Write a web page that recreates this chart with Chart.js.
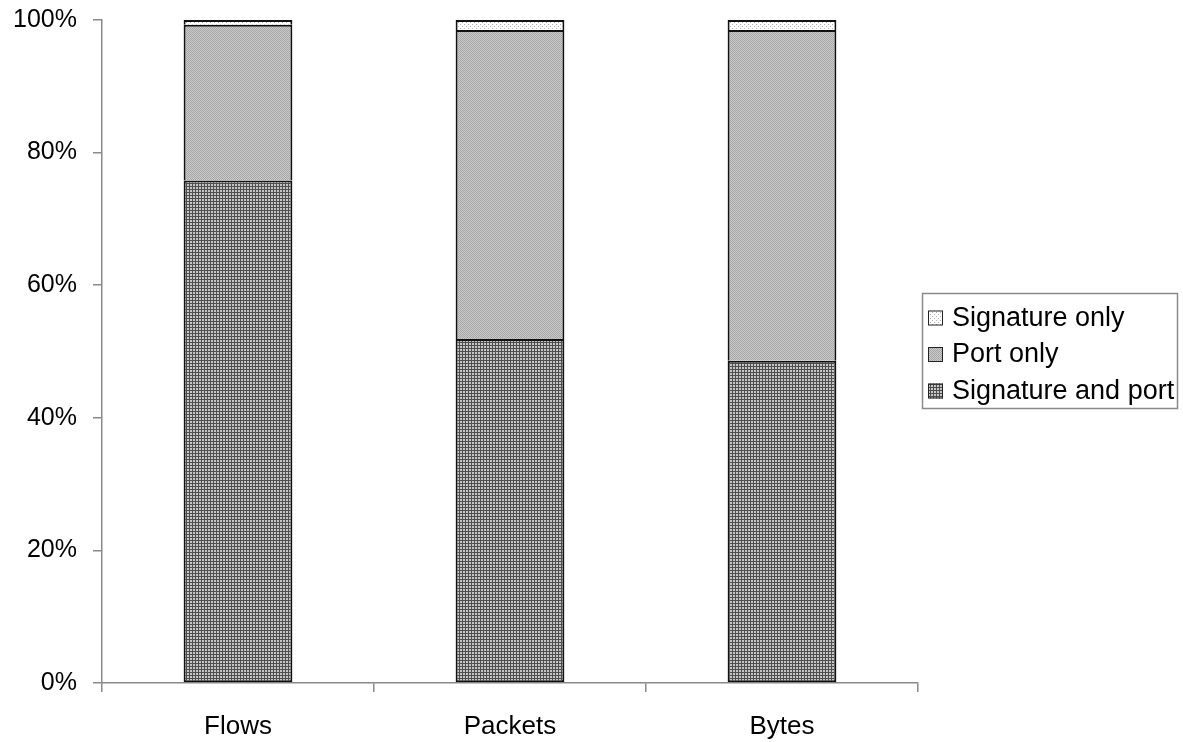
<!DOCTYPE html>
<html>
<head>
<meta charset="utf-8">
<title>Traffic classification breakdown</title>
<script src="https://cdn.jsdelivr.net/npm/chart.js@4/dist/chart.umd.min.js"></script>
<style>
  html, body { margin: 0; padding: 0; background: #ffffff; }
  #wrap { position: relative; width: 1183px; height: 742px; }
</style>
</head>
<body>
<div id="wrap"><canvas id="chart" width="1183" height="742"></canvas></div>
<script>
// Categories and the share (%) of each in every group
const categories = ['Flows', 'Packets', 'Bytes'];
const signatureAndPort = [75.8, 51.9, 48.6];
const portOnly = [23.5, 46.6, 49.9];
const signatureOnly = [0.7, 1.5, 1.5];
const seriesNames = ['Signature and port', 'Port only', 'Signature only'];
const yTickLabels = ['0%', '20%', '40%', '60%', '80%', '100%'];

// Small tiled fills that give each series its textured look
function makeTile(size, paint) {
  const c = document.createElement('canvas');
  c.width = size; c.height = size;
  const g = c.getContext('2d');
  paint(g);
  return c;
}
const ctx = document.getElementById('chart').getContext('2d');

const gridTile = makeTile(3, g => {
  g.fillStyle = '#c6c6c6'; g.fillRect(0, 0, 3, 3);
  g.fillStyle = '#4e4e4e'; g.fillRect(0, 0, 3, 1); g.fillRect(0, 0, 1, 3);
});
const greyTile = makeTile(2, g => {
  g.fillStyle = '#cbcbcb'; g.fillRect(0, 0, 2, 2);
  g.fillStyle = '#a6a6a6'; g.fillRect(0, 0, 1, 1); g.fillRect(1, 1, 1, 1);
});
const dotTile = makeTile(4, g => {
  g.fillStyle = '#ffffff'; g.fillRect(0, 0, 4, 4);
  g.fillStyle = '#b0b0b0'; g.fillRect(0, 0, 1, 1); g.fillRect(2, 2, 1, 1);
});
const fills = [
  ctx.createPattern(gridTile, 'repeat'),
  ctx.createPattern(greyTile, 'repeat'),
  ctx.createPattern(dotTile, 'repeat')
];

const fontFamily = '"Liberation Sans", Arial, sans-serif';

// Boxed legend at the right, top entry first
const boxedLegend = {
  id: 'boxedLegend',
  afterDraw(chart) {
    const c = chart.ctx;
    c.save();
    c.strokeStyle = '#8a8a8a';
    c.lineWidth = 1.5;
    c.strokeRect(922.5, 293.5, 255, 115);
    const rows = [2, 1, 0];
    rows.forEach((ds, i) => {
      const cy = 317.5 + i * 36.5;
      c.fillStyle = fills[ds];
      c.fillRect(928, cy - 7, 15, 15);
      c.strokeStyle = '#222';
      c.lineWidth = 1;
      c.strokeRect(928.5, cy - 6.5, 14, 14);
      c.fillStyle = '#000';
      c.font = '27px ' + fontFamily;
      c.textBaseline = 'middle';
      c.textAlign = 'left';
      c.fillText(seriesNames[ds], 952, cy + 1);
    });
    c.restore();
  }
};

const seriesValues = [signatureAndPort, portOnly, signatureOnly];

new Chart(ctx, {
  type: 'bar',
  data: {
    labels: categories,
    datasets: seriesValues.map((vals, i) => ({
      label: seriesNames[i],
      data: vals,
      backgroundColor: fills[i],
      borderColor: '#111',
      // one shared outline between stacked segments
      borderWidth: { top: 2, left: 2, right: 2, bottom: i === 0 ? 2 : 0 },
      borderSkipped: false,
      categoryPercentage: 1.0,
      barPercentage: 0.4
    }))
  },
  options: {
    responsive: false,
    animation: false,
    layout: { padding: { left: 0, right: 265, top: 20, bottom: 0 } },
    plugins: {
      legend: { display: false },
      tooltip: { enabled: false }
    },
    scales: {
      x: {
        stacked: true,
        offset: true,
        afterFit(scale) { scale.height = 59; scale.paddingLeft = 0; scale.paddingRight = 0; },
        grid: {
          offset: true,
          drawOnChartArea: false,
          drawTicks: true,
          tickLength: 9,
          color: '#8a8a8a',
          lineWidth: 1.5
        },
        border: { color: '#8a8a8a', width: 1.5 },
        ticks: {
          color: '#000',
          font: { family: fontFamily, size: 26 },
          padding: 19
        }
      },
      y: {
        stacked: true,
        min: 0,
        max: 100,
        afterFit(scale) { scale.width = 102; scale.paddingTop = 0; scale.paddingBottom = 0; },
        grid: {
          drawOnChartArea: false,
          drawTicks: true,
          tickLength: 9,
          color: '#8a8a8a',
          lineWidth: 1.5
        },
        border: { color: '#8a8a8a', width: 1.5 },
        ticks: {
          stepSize: 20,
          color: '#000',
          padding: 16,
          font: { family: fontFamily, size: 25 },
          callback: (v) => yTickLabels[Math.round(v / 20)]
        }
      }
    }
  },
  plugins: [boxedLegend]
});
</script>
</body>
</html>
